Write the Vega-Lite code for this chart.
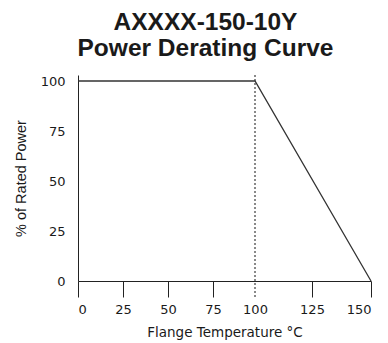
{
  "$schema": "https://vega.github.io/schema/vega-lite/v6.json",
  "autosize": "none",
  "width": 293,
  "height": 206,
  "padding": {"left": 78, "top": 75, "right": 17, "bottom": 62},
  "background": "white",
  "title": {
    "text": ["AXXXX-150-10Y", "Power Derating Curve"],
    "font": "Liberation Sans",
    "fontSize": 24.5,
    "fontWeight": "bold",
    "color": "#1a1a1a",
    "lineHeight": 26,
    "anchor": "middle",
    "dx": -19,
    "offset": 13
  },
  "config": {"view": {"stroke": null}},
  "data": {"values": [
    {"temp": 0, "power": 100},
    {"temp": 100, "power": 100},
    {"temp": 150, "power": 0}
  ]},
  "layer": [
    {
      "mark": {"type": "rule", "color": "#888888", "strokeDash": [2, 2], "strokeWidth": 1.5},
      "encoding": {
        "x": {"datum": 100, "type": "quantitative"},
        "y": {"datum": 103, "type": "quantitative"},
        "y2": {"datum": -8}
      }
    },
    {
      "mark": {"type": "line", "color": "#333333", "strokeWidth": 1.3},
      "encoding": {
        "x": {
          "field": "temp", "type": "quantitative",
          "scale": {"domain": [0, 25, 50, 75, 100, 125, 150], "range": [0, 45, 90, 135, 177, 234, 293], "nice": false, "zero": false},
          "axis": {
            "title": "Flange Temperature °C",
            "values": [0, 25, 50, 75, 100, 125, 150],
            "grid": false,
            "domainColor": "#222222",
            "tickColor": {"condition": {"test": "datum.value == 100", "value": "transparent"}, "value": "#222222"},
            "tickSize": 16,
            "labelPadding": 6,
            "labelFont": "DejaVu Sans",
            "labelFontSize": 13,
            "labelColor": "#1a1a1a",
            "titleFont": "DejaVu Sans",
            "titleFontSize": 13.5,
            "titleFontWeight": "normal",
            "titleColor": "#1a1a1a",
            "titlePadding": 9
          }
        },
        "y": {
          "field": "power", "type": "quantitative",
          "scale": {"domain": [0, 103], "nice": false},
          "axis": {
            "title": "% of Rated Power",
            "values": [0, 25, 50, 75, 100],
            "grid": false,
            "ticks": false,
            "domainColor": "#222222",
            "labelPadding": 13,
            "labelFont": "DejaVu Sans",
            "labelFontSize": 13,
            "labelColor": "#1a1a1a",
            "titleFont": "Liberation Sans",
            "titleFontSize": 14.5,
            "titleFontWeight": "normal",
            "titleColor": "#1a1a1a",
            "titlePadding": 12
          }
        }
      }
    }
  ]
}
